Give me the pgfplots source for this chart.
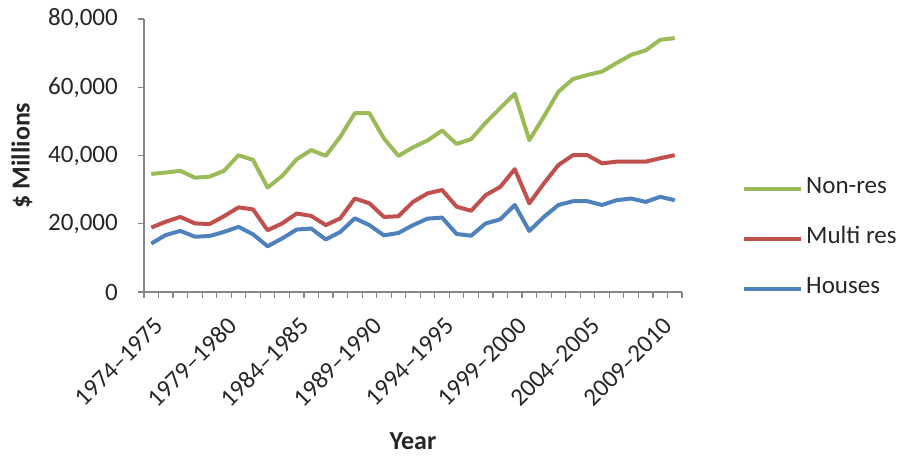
\documentclass[border=0pt]{standalone}
\usepackage{pgfplots}
\pgfplotsset{compat=1.18}
\usepackage{fontspec}
\setmainfont{Carlito}
\definecolor{cgreen}{RGB}{155,187,89}
\definecolor{cred}{RGB}{192,80,77}
\definecolor{cblue}{RGB}{79,129,189}
\definecolor{caxis}{RGB}{134,134,134}
\definecolor{ctext}{RGB}{38,38,38}
\pgfplotstableread{
i nonres multi houses
0 34600 18900 14200
1 35000 20600 16700
2 35500 22000 17900
3 33500 20100 16200
4 33800 19900 16400
5 35500 22200 17600
6 40100 24800 19100
7 38700 24200 16900
8 30600 18100 13400
9 34000 20100 15700
10 38900 23000 18300
11 41600 22300 18600
12 39900 19600 15400
13 45500 21600 17600
14 52400 27400 21600
15 52400 26000 19600
16 45000 22000 16600
17 39900 22200 17300
18 42400 26400 19600
19 44400 28900 21500
20 47300 29900 21800
21 43400 25000 17000
22 44800 23800 16500
23 49600 28400 20100
24 53900 30800 21300
25 58100 36000 25500
26 44500 26000 17900
27 51400 31800 22000
28 58700 37200 25500
29 62400 40100 26600
30 63600 40100 26600
31 64600 37700 25500
32 67100 38200 26900
33 69500 38200 27400
34 70800 38200 26400
35 73900 39200 27900
36 74400 40100 26900
}\datatable
\begin{document}
\begin{tikzpicture}[x=1pt,y=1pt]
\path[use as bounding box] (-144,-164) rectangle (759,292);
\begin{axis}[
  at={(0,0)}, anchor=south west,
  scale only axis, width=538pt, height=273pt,
  xmin=-0.5, xmax=36.5, ymin=0, ymax=80000,
  axis lines*=left,
  axis line style={caxis, line width=1.2pt},
  tick align=outside,
  xtick={0,5,...,35},
  xticklabels={1974–1975,1979–1980,1984–1985,1989–1990,1994–1995,1999–2000,2004–2005,2009–2010},
  major x tick style={draw=none},
  minor xtick={-0.5,0.5,...,36.5},
  minor tick length=6pt,
  minor x tick style={caxis, line width=1.2pt},
  ytick={0,20000,40000,60000,80000},
  major tick length=6pt,
  major y tick style={caxis, line width=1.2pt},
  scaled y ticks=false,
  /pgf/number format/assume math mode=true,
  yticklabel={\pgfmathprintnumber[1000 sep={,}]{\tick}},
  ticklabel style={font=\fontsize{25}{30}\selectfont, text=ctext},
  yticklabel style={inner sep=0pt, xshift=-20pt},
  xticklabel style={rotate=45, anchor=north east, inner sep=0pt, xshift=-11pt, yshift=-14pt},
  xlabel={Year},
  ylabel={\$ Millions},
  label style={font=\bfseries\fontsize{26}{30}\selectfont, text=ctext},
  xlabel style={at={(axis description cs:0.5,0)}, anchor=center, yshift=-149pt},
  ylabel style={at={(axis description cs:0,0.5)}, anchor=center, yshift=122pt},
  legend cell align=left,
  legend style={draw=none, fill=none, at={(598pt,53pt)}, anchor=west,
    inner sep=0pt, row sep=34pt, column sep=3pt,
    nodes={inner sep=0pt, text height=12pt, text depth=4pt, font=\fontsize{25}{30}\selectfont, text=ctext}},
  legend image code/.code={\draw[#1, line width=4pt] (0pt,0pt) -- (57pt,0pt);},
  every axis plot/.append style={line width=4pt, line join=round, no markers},
]
\addplot[cgreen] table[x=i, y=nonres] {\datatable};
\addlegendentry{Non-res}
\addplot[cred] table[x=i, y=multi] {\datatable};
\addlegendentry{Multi res}
\addplot[cblue] table[x=i, y=houses] {\datatable};
\addlegendentry{Houses}
\end{axis}
\end{tikzpicture}
\end{document}
